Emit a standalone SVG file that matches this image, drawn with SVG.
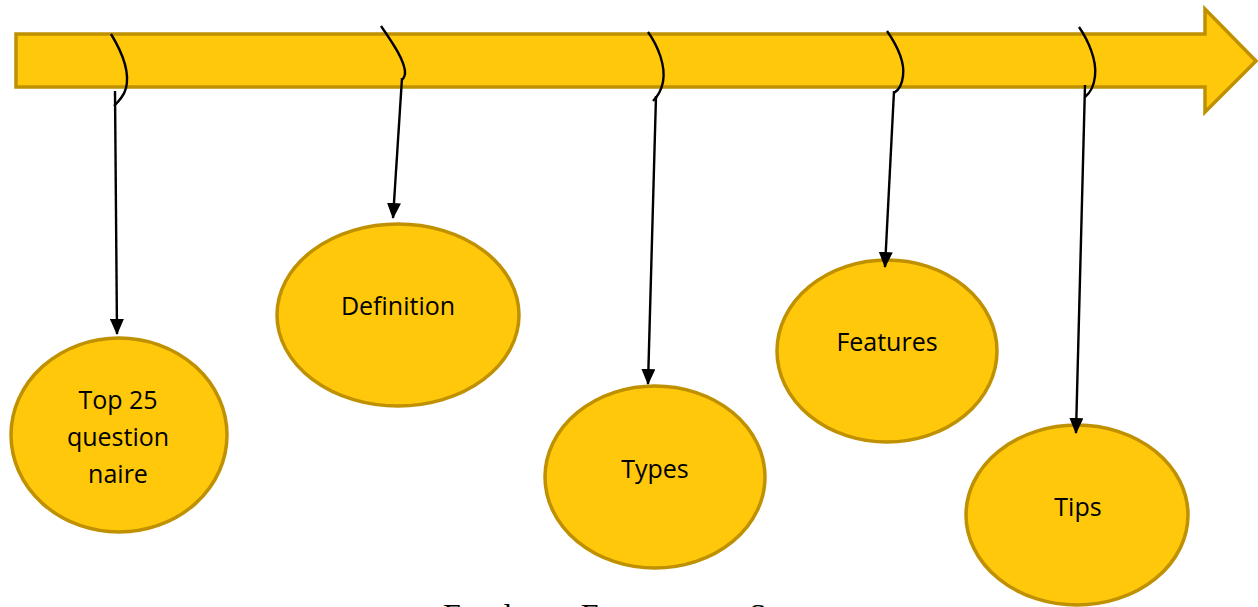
<svg xmlns="http://www.w3.org/2000/svg" width="1258" height="607" viewBox="0 0 1258 607">
<style>
.node ellipse{fill:#FFC80A;stroke:#BF9000;stroke-width:3.5}
.node text{font-family:"Open Sans","Noto Sans",sans-serif;font-size:25px;fill:#000;text-anchor:middle}
.hook{fill:none;stroke:#000;stroke-width:2.4}
.conn{fill:none;stroke:#000;stroke-width:2.4;marker-end:url(#ah)}
.cap{font-family:"Liberation Serif","Times New Roman",serif;font-size:32px;fill:#000}
</style>
<defs>
<marker id="ah" markerWidth="16" markerHeight="14" refX="15" refY="7" orient="auto" markerUnits="userSpaceOnUse" viewBox="0 0 16 14">
<path d="M0,0 L16,7 L0,14 Z" fill="#000"/>
</marker>
</defs>
<g id="timeline">
<path d="M16,34 L1205,34 L1205,9 L1256,61 L1205,112 L1205,87 L16,87 Z" fill="#FFC80A" stroke="#BF9000" stroke-width="3.5" stroke-linejoin="miter"/>
</g>
<g id="node-top25" class="node">
<ellipse cx="119" cy="435" rx="108" ry="97"/>
<text x="118" y="409">Top 25</text>
<text x="118" y="446">question</text>
<text x="118" y="483">naire</text>
</g>
<g id="node-definition" class="node">
<ellipse cx="398" cy="315" rx="121" ry="91"/>
<text x="398" y="315">Definition</text>
</g>
<g id="node-types" class="node">
<ellipse cx="655" cy="477" rx="110" ry="91"/>
<text x="655" y="478">Types</text>
</g>
<g id="node-features" class="node">
<ellipse cx="887" cy="351" rx="110" ry="91"/>
<text x="887" y="351">Features</text>
</g>
<g id="node-tips" class="node">
<ellipse cx="1077" cy="515" rx="111" ry="90"/>
<text x="1078" y="516">Tips</text>
</g>
<g id="connectors">
<path class="hook" d="M111,34 C122,52 130,72 126,88 C124,96 119,101 114,106"/>
<path class="conn" d="M115,91 L117,334"/>
<path class="hook" d="M381,26 C392,42 406,62 405,74 C404,78 403,80 401,80"/>
<path class="conn" d="M402,78 L393,218"/>
<path class="hook" d="M648,32 C658,46 666,66 663,82 C661,92 657,97 653,101"/>
<path class="conn" d="M656,96 L648,384"/>
<path class="hook" d="M887,31 C896,44 905,62 903,76 C902,85 899,90 894,93"/>
<path class="conn" d="M894,91 L885,267"/>
<path class="hook" d="M1079,27 C1088,40 1097,60 1095,76 C1094,86 1090,93 1085,97"/>
<path class="conn" d="M1085,85 L1076,433"/>
</g>
<text class="cap" x="443" y="626">Employee Engagement Survey</text>
</svg>
